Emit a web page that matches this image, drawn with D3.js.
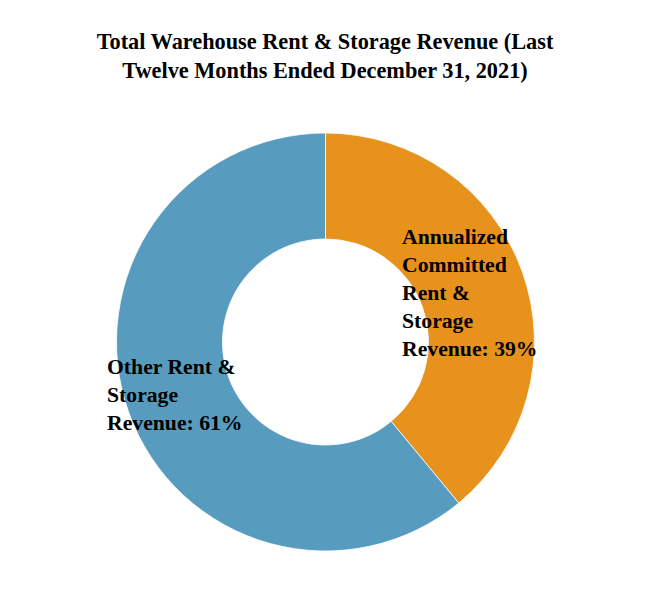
<!DOCTYPE html>
<html>
<head>
<meta charset="utf-8">
<script src="https://cdn.jsdelivr.net/npm/d3@7"></script>
<style>
  body { margin: 0; background: #fff; }
  text { font-family: "Liberation Serif", "Times New Roman", serif; font-weight: bold; fill: #000; }
</style>
</head>
<body>
<script>
// chart data
var categories = ['Annualized Committed Rent & Storage Revenue', 'Other Rent & Storage Revenue'];
var shares = [39, 61];
var labelLines = [
  ['Annualized', 'Committed', 'Rent &', 'Storage', 'Revenue: 39%'],
  ['Other Rent &', 'Storage', 'Revenue: 61%']
];
var colors = ['#E8921E', '#579CBF'];
var titleLines = ['Total Warehouse Rent & Storage Revenue (Last', 'Twelve Months Ended December 31, 2021)'];

var width = 650, height = 600;
var cx = 325.5, cy = 342;
var outerR = 209, innerR = 103;

var svg = d3.select('body').append('svg')
  .attr('width', width)
  .attr('height', height);

// title
svg.append('text')
  .attr('text-anchor', 'middle')
  .style('font-size', '22.3px')
  .selectAll('tspan')
  .data(titleLines)
  .join('tspan')
  .attr('x', width / 2)
  .attr('y', (d, i) => 49 + i * 29)
  .text(d => d);

var pie = d3.pie().sort(null).value(d => d);
var arc = d3.arc().innerRadius(innerR).outerRadius(outerR);

var g = svg.append('g').attr('transform', 'translate(' + cx + ',' + cy + ')');

g.selectAll('path')
  .data(pie(shares))
  .join('path')
  .attr('d', arc)
  .attr('fill', (d, i) => colors[i])
  .attr('stroke', '#fff')
  .attr('stroke-width', 0.8);

// labels, placed on the ring relative to the centre
var labelPos = [
  { x: 402 - cx, y: 243.5 - cy },
  { x: 107 - cx, y: 374 - cy }
];

g.selectAll('text.lbl')
  .data(labelLines)
  .join('text')
  .attr('class', 'lbl')
  .style('font-size', '21.7px')
  .each(function (lines, i) {
    d3.select(this).selectAll('tspan')
      .data(lines)
      .join('tspan')
      .attr('x', labelPos[i].x)
      .attr('y', (d, j) => labelPos[i].y + j * 28)
      .text(d => d);
  });
</script>
</body>
</html>
